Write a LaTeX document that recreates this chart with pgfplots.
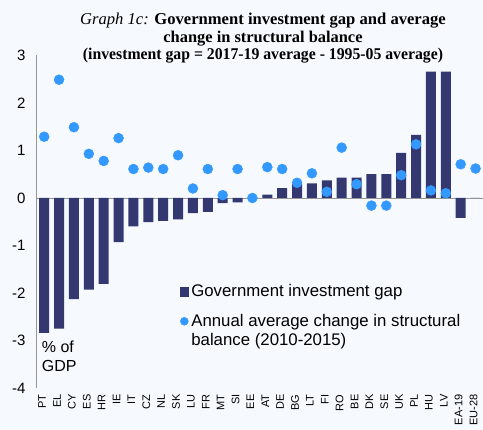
\documentclass[border=0pt]{standalone}
\usepackage{pgfplots}
\pgfplotsset{compat=1.18}
\usepackage{fontspec}
\setmainfont{Liberation Sans}
\newfontfamily\titlefont{Liberation Serif}
\definecolor{bg}{RGB}{246,250,254}
\definecolor{barcol}{RGB}{51,56,112}
\definecolor{dotcol}{RGB}{51,153,255}
\definecolor{axcol}{RGB}{150,150,150}
\begin{document}
\begin{tikzpicture}[x=1pt,y=1pt]
\path[use as bounding box, fill=bg] (0,0) rectangle (483,430);
\begin{axis}[
  at={(36pt,42pt)}, anchor=south west,
  scale only axis, width=447pt, height=332.5pt,
  xmin=-0.55, xmax=29.5, ymin=-4, ymax=3,
  axis lines=left, axis line style={-, axcol, line width=0.8pt},
  x axis line style={draw=none},
  major tick length=0pt,
  xtick={0,...,29},
  xticklabels={PT,EL,CY,ES,HR,IE,IT,CZ,NL,SK,LU,FR,MT,SI,EE,AT,DE,BG,LT,FI,RO,BE,DK,SE,UK,PL,HU,LV,{EA-19},{EU-28}},
  xticklabel style={xshift=-2pt, yshift=-3pt, rotate=90, anchor=east, font=\fontsize{11}{12}\selectfont},
  ytick={-4,-3,-2,-1,0,1,2,3},
  yticklabels={-4,-3,-2,-1,0,1,2,3},
  yticklabel style={font=\fontsize{15}{16}\selectfont, xshift=-7pt},
  legend style={at={(0.322,0.317)}, anchor=north west, draw=none, fill=none,
    inner sep=0pt, font=\fontsize{16.8}{19}\selectfont, cells={align=left}, row sep=12pt},
  legend cell align=left,
]
\addplot[axcol, line width=0.8pt, forget plot] coordinates {(-0.55,0) (29.5,0)};
\addplot[ybar, bar width=0.67, fill=barcol, draw=none,
  legend image code/.code={\fill[barcol] (0pt,-5pt) rectangle (9pt,5pt);}]
coordinates {
(0,-2.84) (1,-2.75) (2,-2.13) (3,-1.93) (4,-1.81) (5,-0.93) (6,-0.60) (7,-0.51)
(8,-0.48) (9,-0.45) (10,-0.32) (11,-0.29) (12,-0.11) (13,-0.09) (14,0.0) (15,0.07)
(16,0.21) (17,0.29) (18,0.31) (19,0.37) (20,0.43) (21,0.43) (22,0.50) (23,0.50)
(24,0.95) (25,1.33) (26,2.66) (27,2.66) (28,-0.42) (29,0.0)
};
\addlegendentry{Government investment gap}
\addplot[only marks, mark=*, mark size=5pt, color=dotcol,
  legend image code/.code={\fill[dotcol] (4pt,9.5pt) circle (4pt);}]
coordinates {
(0,1.29) (1,2.49) (2,1.49) (3,0.93) (4,0.78) (5,1.26) (6,0.61) (7,0.64)
(8,0.61) (9,0.90) (10,0.20) (11,0.61) (12,0.06) (13,0.61) (14,0.0) (15,0.65)
(16,0.61) (17,0.32) (18,0.52) (19,0.13) (20,1.06) (21,0.29) (22,-0.16) (23,-0.16)
(24,0.48) (25,1.13) (26,0.16) (27,0.10) (28,0.71) (29,0.62)
};
\addlegendentry{Annual average change in structural\\balance (2010-2015)}
\end{axis}
\node[anchor=base west, inner sep=0pt, font=\fontsize{16}{19}\selectfont] at (41.7,77) {\% of};
\node[anchor=base west, inner sep=0pt, font=\fontsize{16}{19}\selectfont] at (41.7,58.3) {GDP};
\node[anchor=base, inner sep=0pt, font=\titlefont\fontsize{16.6}{18}\selectfont] at (263,405) {\textit{Graph 1c:} \textbf{Government investment gap and average}};
\node[anchor=base, inner sep=0pt, font=\titlefont\bfseries\fontsize{16.4}{18}\selectfont] at (263,387.3) {change in structural balance};
\node[anchor=base, inner sep=0pt, font=\titlefont\bfseries\fontsize{16.4}{18}\selectfont, xscale=0.96] at (263,370) {(investment gap = 2017-19 average - 1995-05 average)};
\end{tikzpicture}
\end{document}
